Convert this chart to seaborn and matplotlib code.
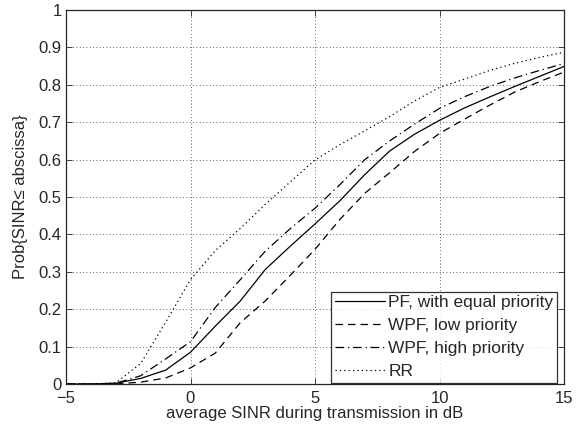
import seaborn as sns
import matplotlib.pyplot as plt
import pandas as pd

# data (average SINR in dB)
sinr = [-5, -4, -3, -2, -1, 0, 1, 2, 3, 4, 5, 6, 7, 8, 9, 10, 11, 12, 13, 14, 15]
pf_equal = [0, 0, 0.002, 0.015, 0.037, 0.085, 0.155, 0.222, 0.306, 0.368, 0.428, 0.49, 0.56, 0.623, 0.668,
            0.705, 0.738, 0.767, 0.795, 0.822, 0.849]
wpf_low = [0, 0, 0, 0.005, 0.016, 0.043, 0.083, 0.164, 0.222, 0.29, 0.36, 0.44, 0.51, 0.565, 0.622,
           0.67, 0.708, 0.745, 0.78, 0.808, 0.834]
wpf_high = [0, 0, 0.002, 0.022, 0.067, 0.113, 0.205, 0.279, 0.355, 0.415, 0.47, 0.533, 0.6, 0.65, 0.695,
            0.737, 0.768, 0.795, 0.818, 0.838, 0.857]
rr = [0, 0, 0.003, 0.055, 0.165, 0.279, 0.357, 0.416, 0.48, 0.54, 0.599, 0.64, 0.677, 0.715, 0.757,
      0.793, 0.815, 0.838, 0.857, 0.873, 0.887]

labels = ['PF, with equal priority', 'WPF, low priority', 'WPF, high priority', 'RR']
styles = ['-', (0, (6, 4)), (0, (7, 3, 1, 3)), (0, (1, 2.5))]

df = pd.DataFrame({'sinr': sinr, labels[0]: pf_equal, labels[1]: wpf_low,
                   labels[2]: wpf_high, labels[3]: rr})

# 스타일 설정
sns.set_style('ticks', {'xtick.direction': 'in', 'ytick.direction': 'in'})
plt.rcParams['font.family'] = ['Liberation Sans', 'DejaVu Sans']
plt.rcParams['font.size'] = 12

fig = plt.figure(figsize=(5.82, 4.32), dpi=100)
ax = fig.add_axes([66 / 582, 1 - 384 / 432, (564 - 66) / 582, (384 - 10) / 432])

for lab, ls in zip(labels, styles):
    sns.lineplot(data=df, x='sinr', y=lab, ax=ax, color='k', lw=0.9, linestyle=ls, label=lab)

ax.set_xlim(-5, 15)
ax.set_ylim(0, 1)
ax.set_xticks([-5, 0, 5, 10, 15])
ax.set_yticks([i / 10 for i in range(11)])
ax.set_yticklabels(['0', '0.1', '0.2', '0.3', '0.4', '0.5', '0.6', '0.7', '0.8', '0.9', '1'])
ax.grid(True, linestyle=(0, (1, 3)), color='k', lw=0.6, alpha=0.8)
ax.tick_params(top=True, right=True, labelsize=12, length=4, width=0.6)
ax.tick_params(axis='x', pad=5)
ax.tick_params(axis='y', pad=3)
for s in ax.spines.values():
    s.set_linewidth(0.9)

ax.set_xlabel('average SINR during transmission in dB', fontsize=12, labelpad=0)
ax.set_ylabel('Prob{SINR\u2264 abscissa}', fontsize=12, labelpad=8)

leg = ax.legend(loc='lower right', bbox_to_anchor=(0.986, 0.004), fontsize=12.5, frameon=True,
                fancybox=False, edgecolor='k', handlelength=2.9, handletextpad=0.2,
                borderpad=0.2, labelspacing=0.45, borderaxespad=0)
leg.get_frame().set_linewidth(0.9)

fig.savefig('out.png', dpi=100)
